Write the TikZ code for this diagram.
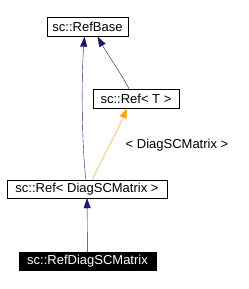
\documentclass[tikz,border=0pt]{standalone}
\usepackage{fontspec}
\setmainfont{Liberation Sans}
\usetikzlibrary{arrows.meta, positioning}
\definecolor{edgenavy}{RGB}{25,25,112}
\definecolor{edgeorange}{RGB}{255,165,0}
\tikzset{
    class style/.style={draw, rectangle, inner sep=0pt, minimum height=19bp, text centered, font=\fontsize{13bp}{15bp}\selectfont},
    leaf style/.style={class style, fill=black, text=white},
    arrow style/.style={-{Triangle[length=10bp, width=7bp]}, edgenavy},
    template style/.style={-{Triangle[length=10bp, width=7bp]}, edgeorange},
}

\begin{document}
\begin{tikzpicture}[x=1bp, y=-1bp]
        \useasboundingbox (0,0) rectangle (249,289);
        \node (base) [class style, minimum width=81bp] at (87.5,27) {sc::RefBase};
        \node (reft) [class style, minimum width=86bp] at (136,98.5) {sc::Ref< T >};
        \node (refdiag) [class style, minimum width=160bp, minimum height=18bp] at (87,189) {sc::Ref< DiagSCMatrix >};
        \node (leaf) [leaf style, minimum width=137bp, minimum height=18bp] at (87.5,261) {sc::RefDiagSCMatrix};
        \node (arg) at (177,145) {\fontsize{13bp}{15bp}\selectfont < DiagSCMatrix >};

        \draw [arrow style] (leaf) -- (refdiag);
        \draw [template style] ([xshift=5bp]refdiag.north) .. controls (104,155) and (118,130) .. ([xshift=-9bp]reft.south);
        \draw [arrow style] ([xshift=-1bp]refdiag.north) .. controls (82,150) and (81,80) .. ([xshift=-3bp]base.south);
        \draw [arrow style] ([xshift=-7bp]reft.north) .. controls (122,75) and (108,55) .. ([xshift=10bp]base.south);
    \end{tikzpicture}
\end{document}
